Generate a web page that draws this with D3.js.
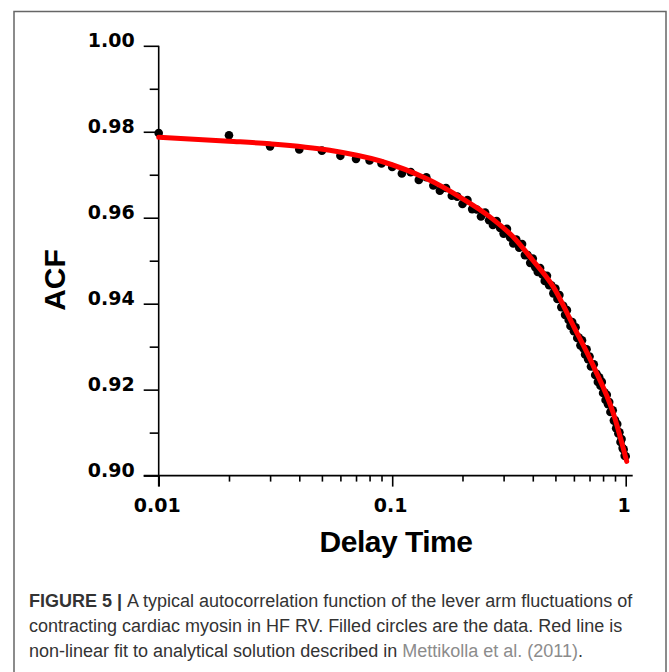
<!DOCTYPE html>
<html>
<head>
<meta charset="utf-8">
<script src="https://cdn.jsdelivr.net/npm/d3@7"></script>
<style>
  body { margin: 0; background: #fff; }
</style>
</head>
<body>
<script>
// delay times (s) of the measured ACF points
var delayTimes = [0.01, 0.02, 0.03, 0.04, 0.05, 0.06, 0.07, 0.08, 0.09, 0.10,
  0.11, 0.12, 0.13, 0.14, 0.15, 0.16, 0.17, 0.18, 0.19, 0.20,
  0.21, 0.22, 0.23, 0.24, 0.25, 0.26, 0.27, 0.28, 0.29, 0.30,
  0.31, 0.32, 0.33, 0.34, 0.35, 0.36, 0.37, 0.38, 0.39, 0.40,
  0.41, 0.42, 0.43, 0.44, 0.45, 0.46, 0.47, 0.48, 0.49, 0.50,
  0.51, 0.52, 0.53, 0.54, 0.55, 0.56, 0.57, 0.58, 0.59, 0.60,
  0.61, 0.62, 0.63, 0.64, 0.65, 0.66, 0.67, 0.68, 0.69, 0.70,
  0.71, 0.72, 0.73, 0.74, 0.75, 0.76, 0.77, 0.78, 0.79, 0.80,
  0.81, 0.82, 0.83, 0.84, 0.85, 0.86, 0.87, 0.88, 0.89, 0.90,
  0.91, 0.92, 0.93, 0.94, 0.95, 0.96, 0.97, 0.98, 0.99, 1.00];

var acfValues = [0.9797, 0.9792, 0.9766, 0.9759, 0.9756, 0.9744, 0.9737, 0.9733, 0.9726, 0.9718,
  0.9703, 0.9706, 0.9688, 0.9694, 0.9675, 0.9663, 0.9669, 0.9651, 0.9649, 0.9632,
  0.9641, 0.9620, 0.9619, 0.9603, 0.9612, 0.9594, 0.9583, 0.9592, 0.9576, 0.9563,
  0.9574, 0.9554, 0.9540, 0.9549, 0.9530, 0.9539, 0.9513, 0.9513, 0.9495, 0.9505,
  0.9485, 0.9474, 0.9483, 0.9468, 0.9453, 0.9465, 0.9443, 0.9443, 0.9424, 0.9435,
  0.9411, 0.9420, 0.9392, 0.9395, 0.9374, 0.9385, 0.9362, 0.9348, 0.9357, 0.9336,
  0.9345, 0.9320, 0.9321, 0.9303, 0.9315, 0.9296, 0.9282, 0.9294, 0.9271, 0.9277,
  0.9254, 0.9255, 0.9259, 0.9234, 0.9237, 0.9218, 0.9229, 0.9209, 0.9218, 0.9192,
  0.9194, 0.9176, 0.9188, 0.9166, 0.9171, 0.9148, 0.9149, 0.9152, 0.9128, 0.9129,
  0.9110, 0.9120, 0.9098, 0.9101, 0.9078, 0.9085, 0.9064, 0.9061, 0.9046, 0.9045];

// red fit line
var fitTimes = [0.01, 0.02, 0.03, 0.054, 0.089, 0.14, 0.195, 0.262, 0.33, 0.40, 0.49, 0.60, 0.73, 0.885, 1.01];
var fitValues = [0.9787, 0.9778, 0.9772, 0.9757, 0.9732, 0.9691, 0.9648, 0.9602, 0.9555, 0.9501, 0.9439, 0.9346, 0.9253, 0.9145, 0.9033];

var xMajorTicks = [0.01, 0.1, 1];
var xTickLabels = ["0.01", "0.1", "1"];
var xMinorTicks = [0.02, 0.03, 0.04, 0.05, 0.06, 0.07, 0.08, 0.09, 0.2, 0.3, 0.4, 0.5, 0.6, 0.7, 0.8, 0.9];
var yMajorTicks = [0.90, 0.92, 0.94, 0.96, 0.98, 1.00];
var yMinorTicks = [0.91, 0.93, 0.95, 0.97, 0.99];

var captionLines = [
  [{t: "FIGURE 5 | ", b: true}, {t: "A typical autocorrelation function of the lever arm fluctuations of"}],
  [{t: "contracting cardiac myosin in HF RV. Filled circles are the data. Red line is"}],
  [{t: "non-linear fit to analytical solution described in "}, {t: "Mettikolla et al. (2011)", c: "#8c8c8c"}, {t: "."}]
];

var svgWidth = 669;
var svgHeight = 672;

var svg = d3.select("body")
            .append("svg")
            .attr("width", svgWidth)
            .attr("height", svgHeight);

// outer frame
svg.append("rect")
   .attr("x", 14)
   .attr("y", 11.5)
   .attr("width", 652)
   .attr("height", 680)
   .attr("fill", "none")
   .attr("stroke", "#666")
   .attr("stroke-width", 1.5);

var xScale = d3.scaleLog()
               .domain([0.01, 1])
               .range([158.7, 625.7]);

var yScale = d3.scaleLinear()
               .domain([0.90, 1.00])
               .range([475.6, 45.8]);

var tickFont = "'DejaVu Sans', sans-serif";

// major ticks + labels
var bottomAxis = d3.axisBottom(xScale)
                   .tickValues(xMajorTicks)
                   .tickFormat((d, i) => xTickLabels[i])
                   .tickSize(11)
                   .tickSizeOuter(0);

var leftAxis = d3.axisLeft(yScale)
                 .tickValues(yMajorTicks)
                 .tickFormat(d3.format(".2f"))
                 .tickSize(15)
                 .tickPadding(9)
                 .tickSizeOuter(0);

var xAxisG = svg.append("g")
    .attr("transform", `translate(0, ${yScale(0.90)})`)
    .call(bottomAxis);

var yAxisG = svg.append("g")
    .attr("transform", `translate(${xScale(0.01)}, 0)`)
    .call(leftAxis);

// minor ticks
svg.append("g")
    .attr("transform", `translate(0, ${yScale(0.90)})`)
    .call(d3.axisBottom(xScale).tickValues(xMinorTicks).tickFormat("").tickSize(6).tickSizeOuter(0));

svg.append("g")
    .attr("transform", `translate(${xScale(0.01)}, 0)`)
    .call(d3.axisLeft(yScale).tickValues(yMinorTicks).tickFormat("").tickSize(9).tickSizeOuter(0));

svg.selectAll(".domain").remove();
svg.selectAll(".tick line")
   .attr("stroke", "#000")
   .attr("stroke-width", 1.6);

xAxisG.selectAll("text")
      .attr("y", 36)
      .attr("dy", 0)
      .attr("dx", -2)
      .attr("font-family", tickFont)
      .attr("font-weight", "bold")
      .attr("font-size", 19)
      .attr("fill", "#000");

yAxisG.selectAll("text")
      .attr("dy", 1)
      .attr("font-family", tickFont)
      .attr("font-weight", "bold")
      .attr("font-size", 19)
      .attr("fill", "#000");

// axis lines
svg.append("line")
   .attr("x1", xScale(0.01) - 15)
   .attr("x2", xScale(1) + 7)
   .attr("y1", yScale(0.90))
   .attr("y2", yScale(0.90))
   .attr("stroke", "#000")
   .attr("stroke-width", 1.6);

svg.append("line")
   .attr("x1", xScale(0.01))
   .attr("x2", xScale(0.01))
   .attr("y1", yScale(1.00))
   .attr("y2", yScale(0.90) + 11)
   .attr("stroke", "#000")
   .attr("stroke-width", 1.6);

// data points
var data = delayTimes.map((t, i) => ({t: t, v: acfValues[i]}));

svg.append("g")
   .selectAll("circle")
   .data(data)
   .enter()
   .append("circle")
   .attr("cx", d => xScale(d.t))
   .attr("cy", d => yScale(d.v))
   .attr("r", 4.3)
   .attr("fill", "#000");

// fit line
var fitData = fitTimes.map((t, i) => ({t: t, v: fitValues[i]}));

var line = d3.line()
             .x(d => xScale(d.t))
             .y(d => yScale(d.v))
             .curve(d3.curveMonotoneX);

svg.append("path")
   .datum(fitData)
   .attr("d", line)
   .attr("fill", "none")
   .attr("stroke", "#ff0000")
   .attr("stroke-width", 5)
   .attr("stroke-linecap", "round");

// axis titles
svg.append("text")
   .attr("x", 396)
   .attr("y", 552)
   .attr("text-anchor", "middle")
   .attr("font-family", "'Liberation Sans', Arial, sans-serif")
   .attr("font-weight", "bold")
   .attr("font-size", 30)
   .attr("letter-spacing", -0.5)
   .text("Delay Time");

svg.append("text")
   .attr("transform", "translate(65, 280) rotate(-90)")
   .attr("text-anchor", "middle")
   .attr("font-family", "'Liberation Sans', Arial, sans-serif")
   .attr("font-weight", "bold")
   .attr("font-size", 30)
   .text("ACF");

// caption
var caption = svg.append("g")
                 .attr("font-family", "'Liberation Sans', Arial, sans-serif")
                 .attr("font-size", 18)
                 .attr("fill", "#333");

captionLines.forEach(function(parts, i) {
  var txt = caption.append("text")
                   .attr("x", 29)
                   .attr("y", 607 + i * 25);
  parts.forEach(function(p) {
    txt.append("tspan")
       .attr("font-weight", p.b ? "bold" : null)
       .attr("fill", p.c || null)
       .text(p.t);
  });
});
</script>
</body>
</html>
